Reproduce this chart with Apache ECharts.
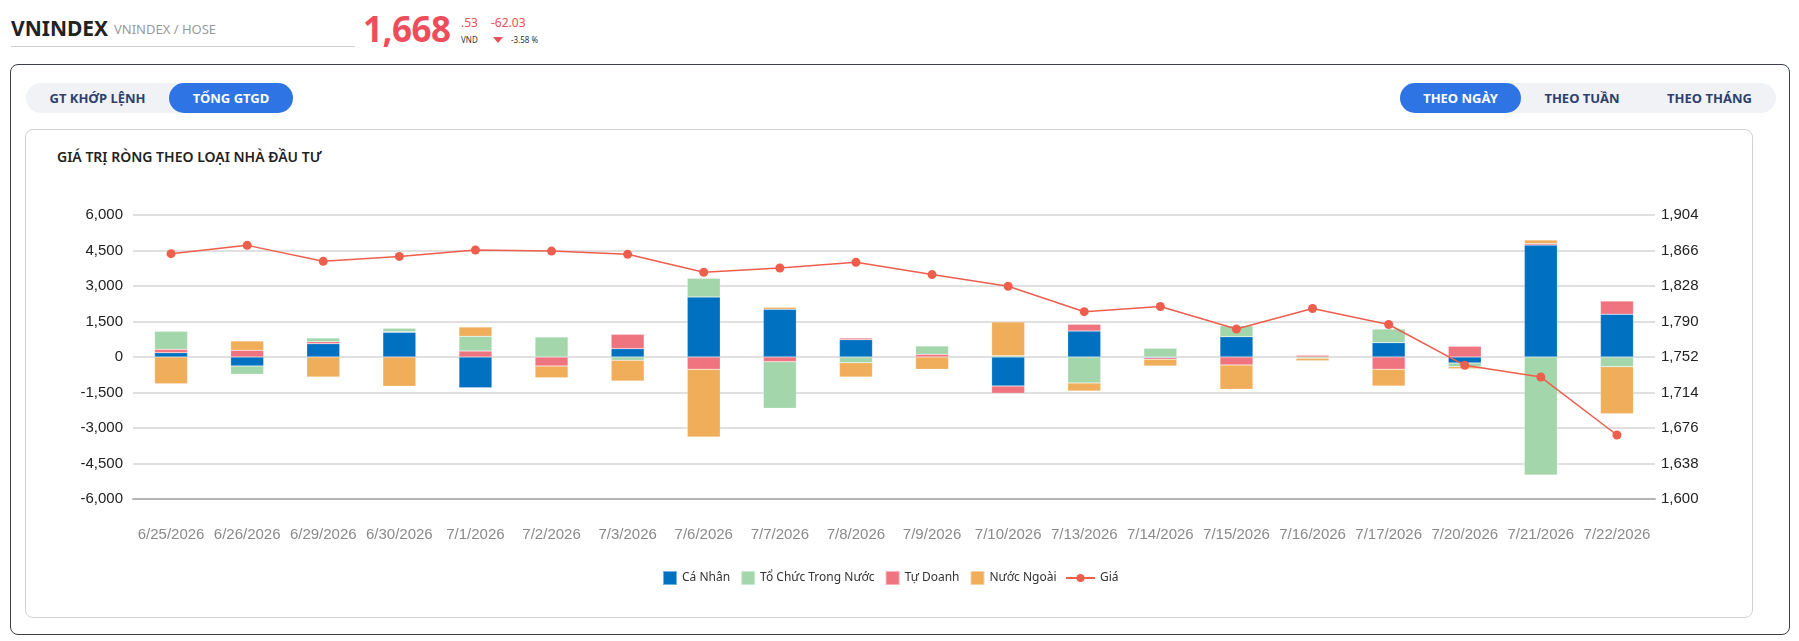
<!DOCTYPE html>
<html>
<head>
<meta charset="utf-8">
<script src="https://cdn.jsdelivr.net/npm/echarts@6/dist/echarts.min.js"></script>
<style>
  body { margin: 0; width: 1799px; height: 641px; background: #fff; font-family: "Noto Sans", sans-serif; position: relative; overflow: hidden; }
  .abs { position: absolute; white-space: nowrap; }
  .symbol { left: 11px; top: 14px; font-size: 21px; font-weight: 700; color: #222; }
  .exch { left: 114px; top: 20px; font-size: 13px; color: #9a9a9a; }
  .underline { left: 11px; top: 46px; width: 344px; height: 1px; background: #cfcfcf; }
  .price { left: 363px; top: 5px; font-size: 35px; font-weight: 700; color: #ee4d5b; letter-spacing: -0.5px; }
  .dec { left: 461px; top: 14px; font-size: 12px; color: #ee4d5b; }
  .vnd { left: 461px; top: 34px; font-size: 8px; color: #333; }
  .chg { left: 491px; top: 14px; font-size: 12px; color: #ee4d5b; }
  .tri { left: 493px; top: 37px; width: 0; height: 0; border-left: 5px solid transparent; border-right: 5px solid transparent; border-top: 6px solid #ee4d5b; }
  .pct { left: 511px; top: 34px; font-size: 8px; color: #333; }
  /* khung ngoai */
  .card { left: 10px; top: 64px; width: 1780px; height: 571px; border: 1.5px solid #3b404a; border-radius: 8px; box-sizing: border-box; }
  .inner { left: 25px; top: 129px; width: 1728px; height: 489px; border: 1px solid #d2d2d2; border-radius: 8px; box-sizing: border-box; }
  .pill { height: 30px; border-radius: 15px; background: #f0f2f5; }
  .btn { height: 30px; line-height: 30px; border-radius: 15px; font-size: 13px; font-weight: 700; color: #2e3f6d; text-align: center; }
  .btn.on { background: #2e74e5; color: #fff; }
  .title { left: 57px; top: 147px; font-size: 14px; font-weight: 600; color: #222; }
  #chart { position: absolute; left: 0; top: 0; width: 1799px; height: 641px; }
</style>
</head>
<body>
  <div class="abs symbol">VNINDEX</div>
  <div class="abs exch">VNINDEX / HOSE</div>
  <div class="abs underline"></div>
  <div class="abs price">1,668</div>
  <div class="abs dec">.53</div>
  <div class="abs vnd">VND</div>
  <div class="abs chg">-62.03</div>
  <div class="abs tri"></div>
  <div class="abs pct">-3.58 %</div>

  <div class="abs card"></div>
  <div class="abs pill" style="left:26px;top:83px;width:267px;"></div>
  <div class="abs btn" style="left:26px;top:83px;width:143px;">GT KHỚP LỆNH</div>
  <div class="abs btn on" style="left:169px;top:83px;width:124px;">TỔNG GTGD</div>

  <div class="abs pill" style="left:1400px;top:83px;width:376px;"></div>
  <div class="abs btn on" style="left:1400px;top:83px;width:121px;">THEO NGÀY</div>
  <div class="abs btn" style="left:1521px;top:83px;width:122px;">THEO TUẦN</div>
  <div class="abs btn" style="left:1643px;top:83px;width:133px;">THEO THÁNG</div>

  <div class="abs inner"></div>
  <div class="abs title">GIÁ TRỊ RÒNG THEO LOẠI NHÀ ĐẦU TƯ</div>

  <div id="chart"></div>

<script>
// ngay giao dich
const dates = ["6/25/2026", "6/26/2026", "6/29/2026", "6/30/2026", "7/1/2026", "7/2/2026", "7/3/2026",
  "7/6/2026", "7/7/2026", "7/8/2026", "7/9/2026", "7/10/2026", "7/13/2026", "7/14/2026",
  "7/15/2026", "7/16/2026", "7/17/2026", "7/20/2026", "7/21/2026", "7/22/2026"];

// gia tri rong (ty dong)
const caNhan = [183, -380, 563, 1042, -1300, 0, 352, 2535, 2014, 732, 0, -1225, 1098, -28, 859, 0, 605, -253, 4731, 1802];
const tuDoanh = [140, 282, 85, 28, 253, -380, 605, -521, -197, 70, 113, -310, 282, -70, -338, 70, -521, 450, 70, 563];
const toChuc = [760, -352, 155, 141, 620, 845, -141, 789, -1971, -239, 352, 56, -1098, 366, 465, -55, 577, -155, -4984, -408];
const nuocNgoai = [-1126, 394, -845, -1239, 394, -493, -873, -2858, 85, -605, -521, 1422, -338, -282, -1028, -100, -704, -85, 141, -1985];

// chi so VNINDEX
const gia = [1862.6, 1871.5, 1854.4, 1859.7, 1866.5, 1865.4, 1861.9, 1842.7, 1847.3, 1853.3, 1840.2, 1827.7,
  1800.5, 1806.0, 1781.9, 1803.9, 1786.8, 1743.1, 1730.56, 1668.53];

const leftTicks = { min: -6000, max: 6000, interval: 1500 };
const rightTicks = { min: 1600, max: 1904, interval: 38 };

let myChart = echarts.init(document.getElementById("chart"));

function fmt(v) {
  return v.toLocaleString("en-US");
}

function barSeries(name, data, color) {
  return {
    name: name,
    type: "bar",
    stack: "net",
    data: data,
    barWidth: 33,
    itemStyle: {
      color: color,
      borderColor: "rgba(255,255,255,0.45)",
      borderWidth: 0.5,
    },
  };
}

const legendText = { fontFamily: "Noto Sans", fontSize: 12, color: "#333" };

let option = {
  animation: false,
  textStyle: { fontFamily: "Liberation Sans, Arial, sans-serif" },
  grid: {
    left: 133,
    top: 215,
    width: 1522,
    height: 284,
  },
  // 2 legend: o vuong cho cot, duong cho gia
  legend: [
    {
      left: 657,
      top: 565,
      itemWidth: 14,
      itemHeight: 14,
      itemGap: 10,
      icon: "rect",
      textStyle: legendText,
      data: ["Cá Nhân", "Tổ Chức Trong Nước", "Tự Doanh", "Nước Ngoài"],
    },
    {
      left: 1060,
      top: 567,
      itemWidth: 29,
      itemHeight: 10,
      textStyle: legendText,
      data: ["Giá"],
    },
  ],
  xAxis: {
    type: "category",
    data: dates,
    axisTick: { show: false },
    axisLine: { onZero: false, lineStyle: { color: "#b4b4b4", width: 2 } },
    axisLabel: {
      color: "#8a8a8a",
      fontSize: 15,
      margin: 28,
      interval: 0,
    },
  },
  yAxis: [
    {
      type: "value",
      min: leftTicks.min,
      max: leftTicks.max,
      interval: leftTicks.interval,
      axisLine: { show: false },
      axisTick: { show: false },
      axisLabel: { color: "#222", fontSize: 15, margin: 10, formatter: fmt },
      splitLine: { lineStyle: { color: "#e0e0e0", width: 2 } },
    },
    {
      type: "value",
      position: "right",
      min: rightTicks.min,
      max: rightTicks.max,
      interval: rightTicks.interval,
      axisLine: { show: false },
      axisTick: { show: false },
      axisLabel: { color: "#222", fontSize: 15, margin: 6, formatter: fmt },
      splitLine: { show: false },
    },
  ],
  series: [
    barSeries("Cá Nhân", caNhan, "#0070c0"),
    barSeries("Tự Doanh", tuDoanh, "#f07480"),
    barSeries("Tổ Chức Trong Nước", toChuc, "#a3d6ab"),
    barSeries("Nước Ngoài", nuocNgoai, "#f0ad5a"),
    {
      name: "Giá",
      type: "line",
      yAxisIndex: 1,
      data: gia,
      symbol: "circle",
      symbolSize: 9,
      color: "#ee5e4c",
      lineStyle: { color: "#ee5e4c", width: 1.5 },
      itemStyle: { color: "#ee5e4c" },
      z: 5,
    },
  ],
};

option && myChart.setOption(option);
</script>
</body>
</html>
